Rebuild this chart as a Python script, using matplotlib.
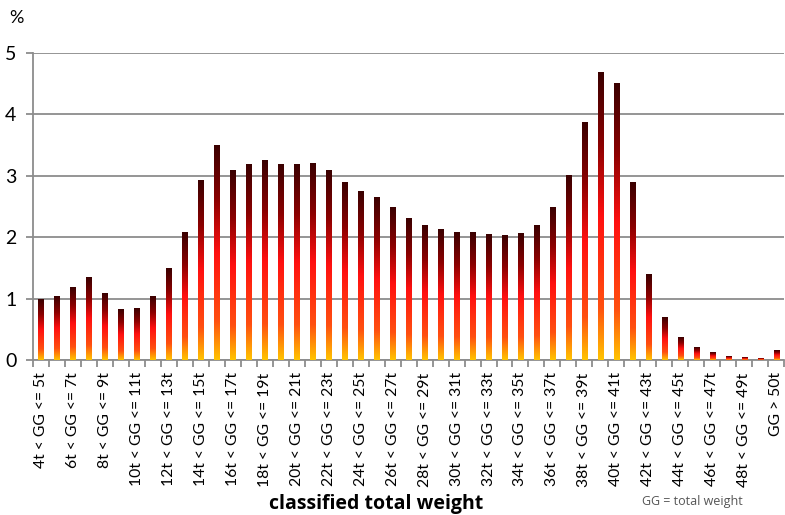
import numpy as np
import matplotlib
matplotlib.use("Agg")
import matplotlib.pyplot as plt
from matplotlib.colors import LinearSegmentedColormap

# --- Daten: Anteil je Gesamtgewichtsklasse (in %) ---
lower_t = list(range(4, 50))
categories = [f"{lo}t < GG <= {lo + 1}t" for lo in lower_t] + ["GG > 50t"]
shares = [0.98, 1.03, 1.18, 1.34, 1.08, 0.83, 0.84, 1.03, 1.49, 2.07,
          2.93, 3.50, 3.09, 3.19, 3.25, 3.19, 3.19, 3.20, 3.09, 2.89,
          2.74, 2.65, 2.49, 2.31, 2.19, 2.12, 2.08, 2.07, 2.05, 2.03,
          2.06, 2.19, 2.48, 3.01, 3.87, 4.68, 4.50, 2.89, 1.39, 0.70,
          0.37, 0.20, 0.12, 0.065, 0.045, 0.03, 0.15]
y_ticks = [0, 1, 2, 3, 4, 5]

# Verlauf je Balken: oben dunkelrot -> rot -> orange -> gelb unten
cmap = LinearSegmentedColormap.from_list(
    "heat", [(0.0, "#3a0000"), (0.25, "#8a0000"), (0.5, "#ff1010"),
             (0.82, "#ff5010"), (1.0, "#ffc400")])
grad = np.linspace(0, 1, 256).reshape(-1, 1)

fig = plt.figure(figsize=(7.85, 5.15), dpi=100)
ax = fig.add_axes([0.042, 0.301, 0.957, 0.596])

x = np.arange(len(shares))
bar_w = 0.32

for xi, val in zip(x, shares):
    ax.imshow(grad, cmap=cmap, aspect="auto", origin="upper",
              extent=(xi - bar_w / 2, xi + bar_w / 2, 0, val),
              interpolation="bilinear", zorder=3)

ax.set_xlim(-0.5, len(shares) - 0.5)
ax.set_ylim(0, 5)

# Gitter und Achsen
ax.set_yticks(y_ticks)
ax.set_yticklabels([str(t) for t in y_ticks], fontsize=14, family="Lato")
ax.yaxis.grid(True, color="#8c8c8c", linewidth=1.3, zorder=0)
ax.set_axisbelow(True)
for s in ["top", "right"]:
    ax.spines[s].set_visible(False)
for s in ["left", "bottom"]:
    ax.spines[s].set_color("#8c8c8c")
    ax.spines[s].set_linewidth(1.3)
ax.tick_params(axis="y", length=5, color="#8c8c8c", width=1.3, pad=7)

# Ticks an den Klassengrenzen, Beschriftung jede zweite Klasse
ax.set_xticks(np.arange(len(shares) + 1) - 0.5)
ax.set_xticklabels([])
ax.tick_params(axis="x", which="major", length=5, color="#8c8c8c", width=1.3)
ax.set_xticks(x[::2], minor=True)
ax.set_xticklabels(categories[::2], minor=True, rotation=90,
                   fontsize=11.3, family="Lato")
ax.tick_params(axis="x", which="minor", length=0, pad=9)

fig.text(0.012, 0.966, "%", fontsize=13, family="Lato", va="center")
fig.text(0.479, 0.012, "classified total weight", fontsize=14,
         fontweight="bold", family="Open Sans", ha="center", va="baseline")
fig.text(0.818, 0.019, "GG = total weight", fontsize=9, color="#555555",
         family="Open Sans", ha="left", va="baseline")

fig.savefig("out.png", dpi=100)
